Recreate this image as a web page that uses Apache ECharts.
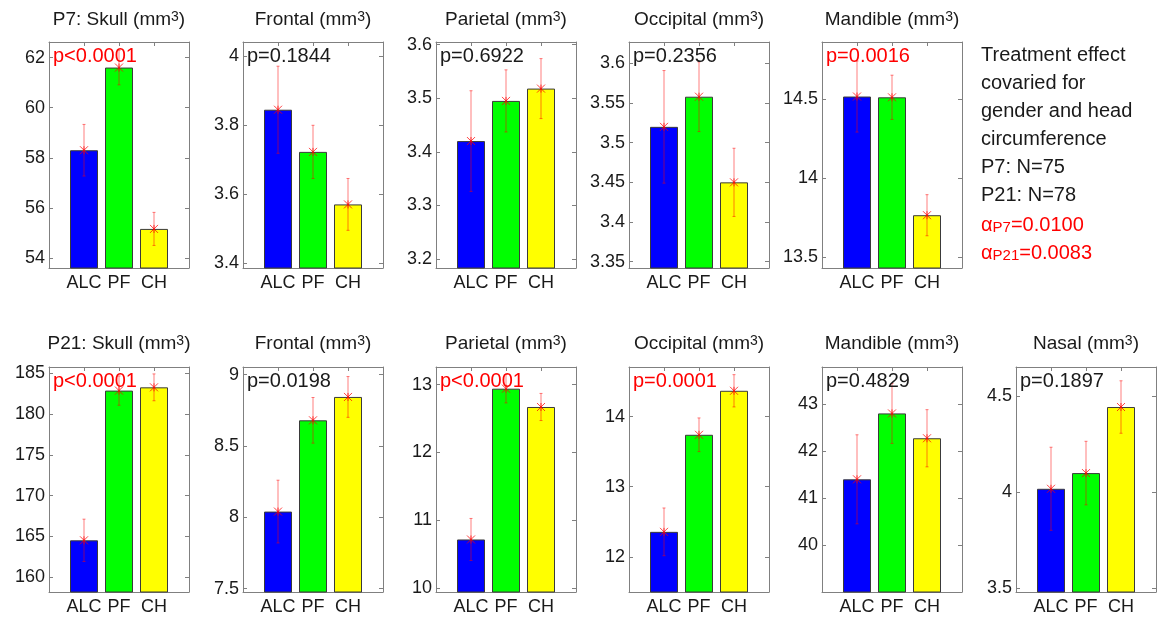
<!DOCTYPE html>
<html><head><meta charset="utf-8">
<script src="https://cdn.jsdelivr.net/npm/echarts@6/dist/echarts.min.js"></script>
<style>html,body{margin:0;padding:0;background:#fff}#c{width:1157px;height:625px}</style>
</head><body><div id="c"></div>
<script>
// ---------- data ----------
const categories = ['ALC', 'PF', 'CH'];
const panelTitles = ['P7: Skull', 'Frontal', 'Parietal', 'Occipital', 'Mandible',
                     'P21: Skull', 'Frontal', 'Parietal', 'Occipital', 'Mandible', 'Nasal'];
const pLabels = ['p<0.0001', 'p=0.1844', 'p=0.6922', 'p=0.2356', 'p=0.0016',
                 'p<0.0001', 'p=0.0198', 'p<0.0001', 'p=0.0001', 'p=0.4829', 'p=0.1897'];
const pSignificant = [true, false, false, false, true, true, false, true, true, false, false];

const p7SkullMean     = [58.30, 61.60, 55.16];
const p7SkullErr      = [1.03, 0.69, 0.66];
const p7FrontalMean   = [3.845, 3.723, 3.571];
const p7FrontalErr    = [0.126, 0.077, 0.075];
const p7ParietalMean  = [3.420, 3.495, 3.518];
const p7ParietalErr   = [0.094, 0.058, 0.056];
const p7OccipitalMean = [3.520, 3.558, 3.450];
const p7OccipitalErr  = [0.071, 0.044, 0.043];
const p7MandibleMean  = [14.515, 14.510, 13.764];
const p7MandibleErr   = [0.225, 0.140, 0.130];

const p21SkullMean     = [164.5, 182.9, 183.3];
const p21SkullErr      = [2.6, 1.8, 1.65];
const p21FrontalMean   = [8.040, 8.680, 8.844];
const p21FrontalErr    = [0.220, 0.160, 0.143];
const p21ParietalMean  = [10.715, 12.940, 12.670];
const p21ParietalErr   = [0.31, 0.21, 0.20];
const p21OccipitalMean = [12.357, 13.740, 14.367];
const p21OccipitalErr  = [0.34, 0.24, 0.23];
const p21MandibleMean  = [41.404, 42.810, 42.280];
const p21MandibleErr   = [0.95, 0.64, 0.61];
const p21NasalMean     = [4.018, 4.100, 4.445];
const p21NasalErr      = [0.217, 0.166, 0.137];

const yTicks = [
  [54, 56, 58, 60, 62], [3.4, 3.6, 3.8, 4], [3.2, 3.3, 3.4, 3.5, 3.6],
  [3.35, 3.4, 3.45, 3.5, 3.55, 3.6], [13.5, 14, 14.5],
  [160, 165, 170, 175, 180, 185], [7.5, 8, 8.5, 9], [10, 11, 12, 13],
  [12, 13, 14], [40, 41, 42, 43], [3.5, 4, 4.5]
];
const yMin = [53.6, 3.387, 3.183, 3.342, 13.43, 158.15, 7.476, 9.94, 11.5, 39.0, 3.479];
const yMax = [62.62, 4.041, 3.605, 3.627, 14.86, 185.8, 9.054, 13.26, 14.706, 43.8, 4.654];

const sideNotes = ['Treatment effect', 'covaried for', 'gender and head', 'circumference', 'P7: N=75', 'P21: N=78'];
const alphaGroups = ['P7', 'P21'];
const alphaValues = ['0.0100', '0.0083'];

const means = [p7SkullMean, p7FrontalMean, p7ParietalMean, p7OccipitalMean, p7MandibleMean,
  p21SkullMean, p21FrontalMean, p21ParietalMean, p21OccipitalMean, p21MandibleMean, p21NasalMean];
const errs = [p7SkullErr, p7FrontalErr, p7ParietalErr, p7OccipitalErr, p7MandibleErr,
  p21SkullErr, p21FrontalErr, p21ParietalErr, p21OccipitalErr, p21MandibleErr, p21NasalErr];

// ---------- layout / style ----------
const FONT = '"Liberation Sans", Arial, sans-serif';
const barColors = ['#0000ff', '#00ff00', '#ffff00'];
const colLeft = [49, 243, 436, 629, 822, 1016];
const rowTop = [42, 367];
const rowHeight = [226, 225];
const rowTitleY = [20, 344];
const boxW = 140;
const axisColor = '#808080';
const textColor = '#1a1a1a';

const grid = [], xAxis = [], yAxis = [], series = [], graphic = [];

means.forEach((m, i) => {
  const row = i < 5 ? 0 : 1;
  const col = i < 5 ? i : i - 5;
  const left = colLeft[col], top = rowTop[row], h = rowHeight[row];
  grid.push({ left: left, top: top, width: boxW, height: h, show: false });

  const tickStyle = { show: true, inside: true, length: 4, lineStyle: { color: axisColor } };
  const lineStyle = { show: true, onZero: false, lineStyle: { color: axisColor, width: 1 } };
  xAxis.push({
    gridIndex: i, type: 'value', min: 0, max: 4, position: 'bottom',
    axisLine: lineStyle, splitLine: { show: false },
    axisTick: Object.assign({ customValues: [1, 2, 3] }, tickStyle),
    axisLabel: { customValues: [1, 2, 3], formatter: v => categories[Math.round(v) - 1] || '',
      fontSize: 18, fontFamily: FONT, color: textColor, margin: 6 }
  });
  xAxis.push({
    gridIndex: i, type: 'value', min: 0, max: 4, position: 'top',
    axisLine: lineStyle, splitLine: { show: false },
    axisTick: Object.assign({ customValues: [1, 2, 3] }, tickStyle),
    axisLabel: { show: false }
  });
  yAxis.push({
    gridIndex: i, type: 'value', min: yMin[i], max: yMax[i], position: 'left',
    axisLine: lineStyle, splitLine: { show: false },
    axisTick: Object.assign({ customValues: yTicks[i] }, tickStyle),
    axisLabel: { customValues: yTicks[i], formatter: v => String(v),
      fontSize: 18, fontFamily: FONT, color: textColor, margin: 4 }
  });
  yAxis.push({
    gridIndex: i, type: 'value', min: yMin[i], max: yMax[i], position: 'right',
    axisLine: lineStyle, splitLine: { show: false },
    axisTick: Object.assign({ customValues: yTicks[i] }, tickStyle),
    axisLabel: { show: false }
  });

  series.push({
    type: 'bar', xAxisIndex: 2 * i, yAxisIndex: 2 * i, z: 2,
    data: m.map((v, k) => [k + 1, v]),
    barWidth: 28, clip: true, silent: true,
    itemStyle: { color: p => barColors[p.dataIndex], borderColor: '#3a3a3a', borderWidth: 1 }
  });
  series.push({
    type: 'custom', xAxisIndex: 2 * i, yAxisIndex: 2 * i, silent: true, clip: false, z: 10,
    data: m.map((v, k) => [k + 1, v, errs[i][k]]),
    renderItem: (params, api) => {
      const x = api.value(0), mu = api.value(1), e = api.value(2);
      const t = api.coord([x, mu + e]), b = api.coord([x, mu - e]), c = api.coord([x, mu]);
      const st = { stroke: 'rgba(255,0,0,0.5)', lineWidth: 1 };
      const mk = { stroke: 'rgba(255,0,0,0.75)', lineWidth: 1 };
      const s = 4, cap = 1.5;
      const L = (x1, y1, x2, y2, style) => ({ type: 'line', shape: { x1, y1, x2, y2 }, style });
      return { type: 'group', children: [
        L(t[0], t[1], b[0], b[1], st),
        L(t[0] - cap, t[1], t[0] + cap, t[1], st),
        L(b[0] - cap, b[1], b[0] + cap, b[1], st),
        L(c[0] - s, c[1] - s, c[0] + s, c[1] + s, mk),
        L(c[0] - s, c[1] + s, c[0] + s, c[1] - s, mk),
        L(c[0], c[1] - s, c[0], c[1] + s, mk)
      ] };
    }
  });

  // panel title
  graphic.push({
    type: 'text', x: left + boxW / 2, y: rowTitleY[row], silent: true, z: 20,
    style: {
      text: panelTitles[i] + ' (mm{sup|3})',
      font: '19px ' + FONT, fill: textColor, align: 'center', verticalAlign: 'middle',
      rich: { sup: { fontSize: 14, fontFamily: FONT, fill: textColor, verticalAlign: 'top', lineHeight: 12 } }
    }
  });
  // p-value
  graphic.push({
    type: 'text', x: left + 4, y: top + 14, silent: true, z: 20,
    style: { text: pLabels[i], font: '20px ' + FONT, fill: pSignificant[i] ? '#ff0000' : textColor,
      align: 'left', verticalAlign: 'middle' }
  });
});

// side notes
sideNotes.forEach((t, k) => {
  graphic.push({
    type: 'text', x: 981, y: 55 + k * 28, silent: true,
    style: { text: t, font: '20px ' + FONT, fill: textColor, align: 'left', verticalAlign: 'middle' }
  });
});
alphaGroups.forEach((g, k) => {
  graphic.push({
    type: 'text', x: 981, y: 225 + k * 28, silent: true,
    style: {
      text: '{a|α}{sub|' + g + '}{a|=' + alphaValues[k] + '}',
      align: 'left', verticalAlign: 'middle',
      rich: {
        a: { fontSize: 20, fontFamily: FONT, fill: '#ff0000', lineHeight: 20, verticalAlign: 'top' },
        sub: { fontSize: 15, fontFamily: FONT, fill: '#ff0000', lineHeight: 16, verticalAlign: 'bottom' }
      }
    }
  });
});

const chart = echarts.init(document.getElementById('c'), null, { renderer: 'canvas' });
chart.setOption({
  backgroundColor: '#ffffff',
  animation: false,
  grid, xAxis, yAxis, series, graphic
});
</script>
</body></html>
